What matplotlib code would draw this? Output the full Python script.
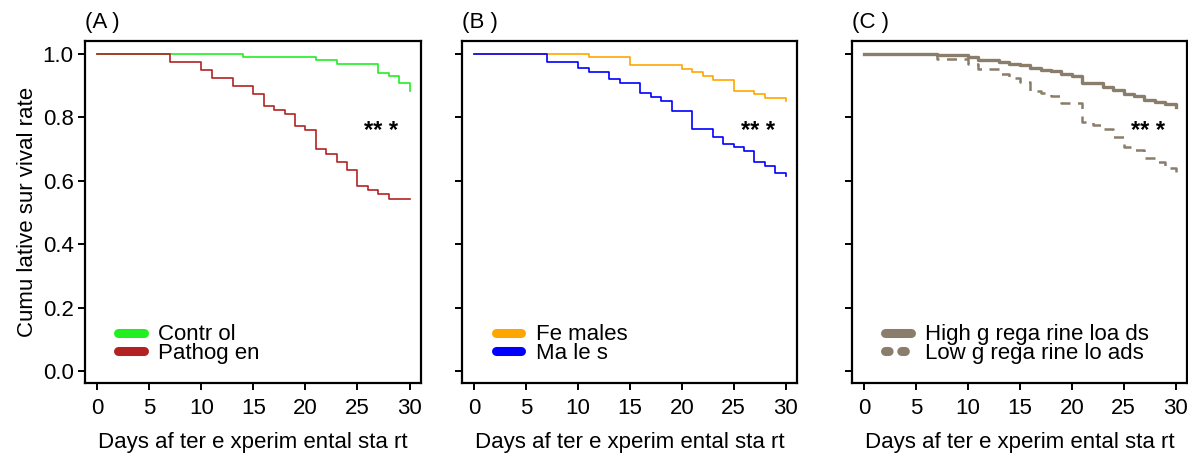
import numpy as np
import matplotlib.pyplot as plt

plt.rcParams.update({'font.family': ['Liberation Sans', 'DejaVu Sans'],
                     'font.size': 16, 'axes.linewidth': 1.6,
                     'xtick.major.width': 1.4, 'ytick.major.width': 1.4,
                     'xtick.major.size': 5, 'ytick.major.size': 5})

# survival curves (day, cumulative survival)
control_t = [0, 14, 21, 23, 27, 28, 29, 30]
control_s = [1.0, 0.99, 0.98, 0.97, 0.94, 0.93, 0.91, 0.884]
pathogen_t = [0, 7, 10, 11, 13, 15, 16, 17, 18, 19, 20, 21, 22, 23, 24, 25, 26, 27, 28, 30]
pathogen_s = [1.0, 0.975, 0.949, 0.925, 0.90, 0.873, 0.837, 0.824, 0.812, 0.773, 0.76,
              0.699, 0.685, 0.658, 0.634, 0.585, 0.57, 0.558, 0.544, 0.544]

females_t = [0, 11, 15, 20, 21, 22, 23, 25, 27, 28, 30]
females_s = [1.0, 0.99, 0.966, 0.954, 0.943, 0.932, 0.918, 0.884, 0.874, 0.86, 0.851]
males_t = [0, 7, 10, 11, 13, 14, 16, 17, 18, 19, 21, 23, 24, 25, 26, 27, 28, 29, 30]
males_s = [1.0, 0.976, 0.955, 0.944, 0.921, 0.91, 0.876, 0.865, 0.853, 0.82, 0.762,
           0.739, 0.716, 0.707, 0.695, 0.66, 0.648, 0.626, 0.615]

high_t = [0, 7, 10, 11, 13, 14, 15, 16, 17, 18, 19, 20, 21, 23, 24, 25, 26, 27, 28, 29, 30]
high_s = [1.0, 0.996, 0.99, 0.982, 0.976, 0.97, 0.964, 0.955, 0.95, 0.945, 0.938, 0.93,
          0.91, 0.897, 0.887, 0.874, 0.869, 0.855, 0.849, 0.841, 0.832]
low_t = [0, 7, 10, 11, 13, 14, 15, 16, 17, 18, 19, 21, 22, 23, 24, 25, 26, 27, 28, 29, 30]
low_s = [1.0, 0.983, 0.968, 0.952, 0.937, 0.923, 0.913, 0.883, 0.876, 0.868, 0.844,
         0.786, 0.777, 0.763, 0.739, 0.708, 0.697, 0.671, 0.66, 0.64, 0.618]

xticks = [0, 5, 10, 15, 20, 25, 30]
yticks = [0.0, 0.2, 0.4, 0.6, 0.8, 1.0]
xlabel = 'Days af ter e xperim ental sta rt'
ylabel = 'Cumu lative sur vival rate'

W, H = 1188, 455
fig = plt.figure(figsize=(W / 100, H / 100), dpi=100)
boxes = [(84.7, 421), (462, 797), (851.7, 1187)]
axes = []
for l, r in boxes:
    ax = fig.add_axes([l / W, (H - 383) / H, (r - l) / W, (383 - 41) / H])
    ax.set_xlim(-1.2, 31.1)
    ax.set_ylim(-0.038, 1.041)
    ax.set_xticks(xticks)
    ax.set_yticks(yticks)
    ax.set_xlabel(xlabel, labelpad=9)
    ax.tick_params(axis='x', pad=6)
    ax.tick_params(axis='y', pad=3)
    axes.append(ax)

axA, axB, axC = axes
axA.set_yticklabels([f'{v:.1f}' for v in yticks])
axA.set_ylabel(ylabel, labelpad=3)
axB.set_yticklabels([])
axC.set_yticklabels([])

legkw = dict(loc='lower left', frameon=False, borderpad=0, borderaxespad=0,
             handlelength=1.15, handletextpad=0.65, labelspacing=-0.1, fontsize=16)

# (A)
axA.step(control_t, control_s, where='post', color='#22ee22', lw=1.2, label='Contr ol')
axA.step(pathogen_t, pathogen_s, where='post', color='#b22222', lw=1.2, label='Pathog en')
# (B)
axB.step(females_t, females_s, where='post', color='#ffa500', lw=1.2, label='Fe males')
axB.step(males_t, males_s, where='post', color='#0000ff', lw=1.2, label='Ma le s')
# (C)
taupe = '#8b7d6b'
axC.step(high_t, high_s, where='post', color=taupe, lw=2.4, label='High g rega rine loa ds')
axC.step(low_t, low_s, where='post', color=taupe, lw=1.8, ls=(0, (4, 3)),
         label='Low g rega rine lo ads')

for ax, letter in zip(axes, 'ABC'):
    leg = ax.legend(bbox_to_anchor=(0.1, 0.055), **legkw)
    for h in leg.get_lines():
        h.set_linewidth(6.5)
        h.set_solid_capstyle('round')
        h.set_dash_capstyle('round')
        if h.get_linestyle() != '-':
            h.set_linestyle((0, (0.4, 1.4)))
    ax.text(27.3, 0.755, '** *', fontsize=17, fontweight='bold', ha='center', va='center')
    ax.text(0.0, 1.022, f'({letter} )', transform=ax.transAxes, ha='left', va='bottom')

fig.savefig('out.png', dpi=100)
